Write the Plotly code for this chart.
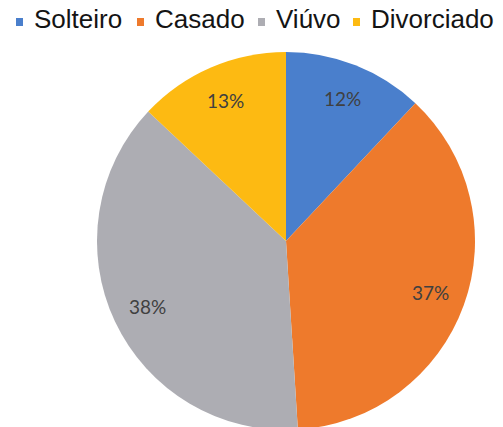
import math
import plotly.graph_objects as go

# Marital status distribution
categories = ["Solteiro", "Casado", "Viúvo", "Divorciado"]
values = [12, 37, 38, 13]
colors = ["#4a7fcc", "#ee7a2c", "#adadb3", "#fdba12"]

W, H = 503, 430
cx, cy, r = 286, 241, 189  # pie centre and radius in pixels

fig = go.Figure(
    go.Pie(
        labels=categories,
        values=values,
        sort=False,
        direction="clockwise",
        rotation=0,
        marker=dict(colors=colors, line=dict(width=0)),
        textinfo="none",
        hoverinfo="label+percent",
        showlegend=False,
        domain=dict(x=[(cx - r) / W, (cx + r) / W], y=[(H - cy - r) / H, (H - cy + r) / H]),
    )
)

# Percentage labels placed along each slice's bisector
total = sum(values)
cum = 0
for v in values:
    mid = (cum + v / 2) / total * 2 * math.pi
    cum += v
    rr = 0.81 * r
    px = cx + rr * math.sin(mid)
    py = cy - rr * math.cos(mid)
    fig.add_annotation(
        x=px / W, y=1 - py / H, xref="paper", yref="paper",
        text=f"{round(v / total * 100)}%", showarrow=False,
        font=dict(family="Lato", size=19, color="#404040"),
        xanchor="center", yanchor="middle",
    )

# Compact legend row across the top: small square swatch followed by the name
legend_x = [16, 137, 258, 353]  # left edge of each swatch, px
swatch = 7
for x0, name, col in zip(legend_x, categories, colors):
    fig.add_shape(
        type="rect", xref="paper", yref="paper",
        x0=x0 / W, x1=(x0 + swatch) / W,
        y0=1 - 26 / H, y1=1 - 18 / H,
        fillcolor=col, line=dict(width=0),
    )
    fig.add_annotation(
        x=(x0 + swatch + 9) / W, y=1 - 19.5 / H, xref="paper", yref="paper",
        text=name, showarrow=False, xanchor="left", yanchor="middle",
        font=dict(family="Liberation Sans", size=26, color="#141414"),
    )

fig.update_layout(
    width=W, height=H,
    margin=dict(l=0, r=0, t=0, b=0),
    paper_bgcolor="white", plot_bgcolor="white",
    showlegend=False,
)

fig.write_html("out.html")
